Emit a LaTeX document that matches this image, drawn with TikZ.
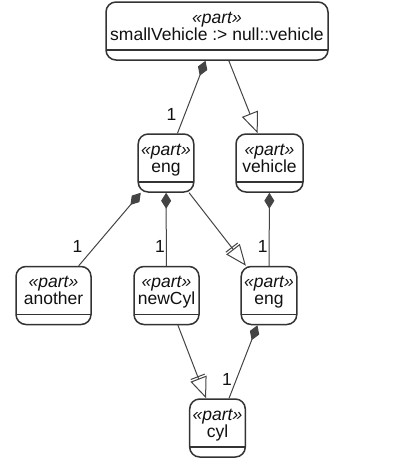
\documentclass[tikz,border=0pt]{standalone}
\usepackage{fontspec}
\setmainfont{Liberation Sans}
\usetikzlibrary{arrows.meta}
\definecolor{ink}{HTML}{111111}
\definecolor{edge}{HTML}{333333}
\definecolor{wire}{HTML}{444444}
\tikzset{
  part/.style={draw=edge,rounded corners=10pt,fill=white,line width=1.5pt,
    align=center,font=\fontsize{17.5pt}{17pt}\selectfont,text=ink,
    minimum height=58pt,inner xsep=3pt,text height=30pt,text depth=12pt,
    path picture={\draw[edge,line width=1.3pt]
      ([yshift=10pt]path picture bounding box.south west)--
      ([yshift=10pt]path picture bounding box.south east);}},
  compose/.style={{Diamond[length=16pt,width=10pt]}-,line width=1pt,color=wire},
  general/.style={-{Triangle[open,length=21pt,width=17pt]},line width=1pt,color=wire},
  redef/.style={-{Bar[width=15pt,sep=1.5pt]Triangle[open,length=21pt,width=17pt]},line width=1pt,color=wire},
  mult/.style={font=\fontsize{17.5pt}{17pt}\selectfont,text=ink,inner sep=0pt,pos=.74},
}
\newcommand{\stereo}{{\itshape «part»}}

\begin{document}
\begin{tikzpicture}[x=1pt,y=-1pt]
  \useasboundingbox[fill=white] (0,0) rectangle (404,464);

  \node[part,minimum width=222pt] (small) at (217,31) {\stereo\\smallVehicle :> null::vehicle};
  \node[part,minimum width=54pt] (eng) at (166,163) {\stereo\\eng};
  \node[part,minimum width=67pt] (veh) at (269.5,163) {\stereo\\vehicle};
  \node[part,minimum width=75pt] (another) at (53.5,295.5) {\stereo\\another};
  \node[part,minimum width=65pt] (newcyl) at (166.5,295.5) {\stereo\\newCyl};
  \node[part,minimum width=54pt] (engb) at (269,295.5) {\stereo\\eng};
  \node[part,minimum width=53pt] (cyl) at (217.5,428) {\stereo\\cyl};

  \draw[compose] (small)--node[mult,left=8pt]{1}(eng);
  \draw[general] (small)--(veh);
  \draw[compose] (eng)--node[mult,left=12pt]{1}(another);
  \draw[compose] (eng)--node[mult,left=1pt]{1}(newcyl);
  \draw[redef] (eng)--(engb);
  \draw[compose] (veh)--node[mult,left=1pt]{1}(engb);
  \draw[redef] (newcyl)--(cyl);
  \draw[compose] (engb)--node[mult,left=4pt]{1}(cyl);
\end{tikzpicture}
\end{document}
